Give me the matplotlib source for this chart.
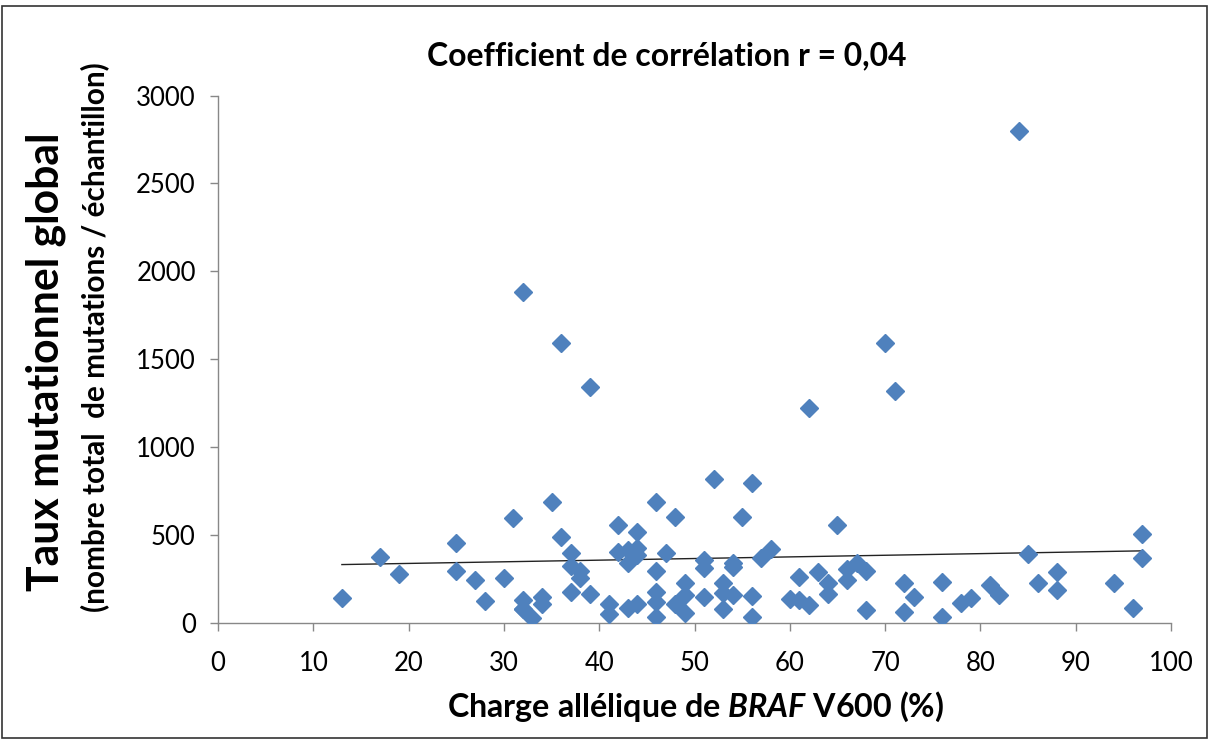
import numpy as np
import matplotlib
matplotlib.use("Agg")
import matplotlib.pyplot as plt
from matplotlib.patches import Rectangle

# Data
charge_allelique = [13, 17, 19, 25, 25, 27, 28, 30, 31, 32, 32, 32, 32, 33, 34, 34, 35,
                    36, 36, 37, 37, 37, 38, 38, 39, 39, 41, 41, 42, 42, 43, 43, 43, 44,
                    44, 44, 44, 46, 46, 46, 46, 46, 47, 48, 48, 49, 49, 49, 51, 51, 51,
                    52, 53, 53, 53, 54, 54, 54, 55, 56, 56, 56, 57, 58, 60, 61, 61, 62,
                    62, 63, 64, 64, 65, 66, 66, 67, 68, 68, 70, 71, 72, 72, 73, 76, 76,
                    78, 79, 81, 82, 84, 85, 86, 88, 88, 94, 96, 97, 97]
taux_mutationnel = [142, 375, 279, 455, 296, 242, 125, 256, 597, 1882, 131, 80, 80, 28, 148, 108, 688,
                    489, 1592, 398, 324, 176, 296, 256, 165, 1340, 108, 50, 557, 404, 415, 341, 85, 518,
                    427, 387, 108, 688, 296, 176, 119, 34, 398, 603, 108, 228, 159, 57, 358, 313, 148,
                    819, 228, 171, 80, 341, 319, 159, 603, 796, 156, 36, 372, 421, 136, 262, 131, 1222,
                    102, 290, 228, 165, 557, 307, 245, 341, 296, 74, 1590, 1320, 228, 63, 148, 233, 34,
                    114, 142, 216, 159, 2800, 390, 230, 290, 188, 228, 85, 506, 370]

x_ticks = [0, 10, 20, 30, 40, 50, 60, 70, 80, 90, 100]
y_ticks = [0, 500, 1000, 1500, 2000, 2500, 3000]

title_text = "Coefficient de corrélation r = 0,04"
xlabel_text = "Charge allélique de $\\mathbfit{BRAF}$ V600 (%)"
ylabel_line1 = "Taux mutationnel global"
ylabel_line2 = "(nombre total  de mutations / échantillon)"

FONT = ["Lato", "DejaVu Sans"]
plt.rcParams["font.family"] = FONT
plt.rcParams["mathtext.fontset"] = "custom"
plt.rcParams["mathtext.rm"] = "Lato"
plt.rcParams["mathtext.bf"] = "Lato:bold"
plt.rcParams["mathtext.it"] = "Lato:italic"
plt.rcParams["mathtext.bfit"] = "Lato:italic:bold"

W, H = 1214, 743
fig = plt.figure(figsize=(W / 100, H / 100), dpi=100)
ax = fig.add_axes([218 / W, 1 - 623 / H, (1171 - 218) / W, (623 - 95.5) / H])

blue = "#4F81BD"
x = np.array(charge_allelique, dtype=float)
y = np.array(taux_mutationnel, dtype=float)
ax.plot(x, y, linestyle="none", marker="D", markersize=8.7, color=blue,
        markeredgecolor=blue, zorder=3)

# Linear trend line
slope, intercept = np.polyfit(x, y, 1)
xt = np.array([x.min(), x.max()])
ax.plot(xt, slope * xt + intercept, color="#222222", linewidth=1.0, zorder=2)

ax.set_xlim(0, 100)
ax.set_ylim(0, 3000)
ax.set_xticks(x_ticks)
ax.set_yticks(y_ticks)
ax.tick_params(axis="both", direction="out", length=6, width=1, color="#888888",
               labelsize=18.5)
ax.tick_params(axis="x", pad=14)
ax.tick_params(axis="y", pad=10)
for s in ["top", "right"]:
    ax.spines[s].set_visible(False)
for s in ["left", "bottom"]:
    ax.spines[s].set_color("#888888")
    ax.spines[s].set_linewidth(1)


def place(text, cx, cy, target_len, rotation=0, size0=20):
    t = fig.text(cx / W, 1 - cy / H, text, fontsize=size0, fontweight="bold",
                 ha="center", va="center", rotation=rotation)
    r = fig.canvas.get_renderer()
    for _ in range(3):
        bb = t.get_window_extent(r)
        cur = bb.height if rotation == 90 else bb.width
        t.set_fontsize(t.get_fontsize() * target_len / cur)
    return t


place(title_text, 667, 56, 480)
place(xlabel_text, 696, 707, 498)
place(ylabel_line1, 46, 362, 459, rotation=90)
place(ylabel_line2, 95, 337, 550, rotation=90)

fig.patches.append(Rectangle((2 / W, 1 - 738 / H), 1205 / W, 732 / H,
                             transform=fig.transFigure, fill=False,
                             edgecolor="#333333", linewidth=1.2))

fig.savefig("out.png", dpi=100)
